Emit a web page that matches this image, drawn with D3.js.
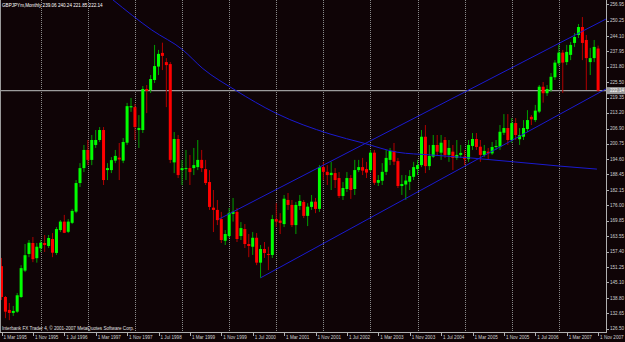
<!DOCTYPE html>
<html>
<head>
<meta charset="utf-8">
<script src="https://cdn.jsdelivr.net/npm/d3@7"></script>
<style>
body { margin: 0; background: #0f0406; }
svg { display: block; }
</style>
</head>
<body>
<div id="chart"></div>
<script>
// GBPJPYm monthly, Mar 1995 .. Nov 2007
const firstMonth = new Date(1995, 2, 1);
const lastMonth = new Date(2007, 10, 1);

const open = [151.6,139.2,134.0,132.8,133.3,139.2,149.8,156.5,160.9,154.8,158.8,160.9,159.7,162.5,156.9,166.1,169.5,165.4,169.0,173.5,
185.0,191.0,198.3,194.3,200.3,202.3,206.3,190.2,190.2,194.0,195.2,194.0,201.2,215.4,215.5,206.3,206.3,222.8,222.4,226.4,
231.8,237.3,233.6,232.8,193.3,202.7,190.2,190.6,191.0,191.0,191.4,194.3,190.6,185.4,175.1,174.2,170.5,161.8,163.7,172.6,
173.4,163.7,166.5,160.5,159.4,163.0,153.0,158.5,156.5,156.1,170.5,169.9,168.5,178.2,176.2,168.1,175.8,177.4,171.8,175.4,
177.5,174.6,191.4,189.5,188.2,189.0,187.0,179.8,182.6,187.0,182.6,190.2,191.4,190.6,190.2,197.2,185.1,185.9,189.5,194.3,
197.9,193.8,183.8,184.4,185.5,187.5,190.6,192.2,203.6,191.8,195.6,200.3,197.2,202.3,196.3,197.6,195.1,196.3,195.6,194.6,
199.9,202.7,199.6,196.3,197.6,196.9,199.5,199.6,205.2,207.1,202.3,209.1,202.6,203.6,206.7,211.6,210.3,213.7,223.7,221.1,
222.4,227.5,233.1,237.4,233.6,236.5,241.3,244.5,247.7,242.5,233.6,235.2,239.06];

const high = [154.9,139.6,136.8,135.6,140.8,152.0,160.5,162.1,163.3,160.9,162.1,164.1,164.1,164.9,167.3,170.1,172.2,170.5,174.6,186.2,
193.0,200.3,202.3,204.3,206.3,207.5,207.5,193.0,195.4,198.3,201.1,203.1,217.2,219.2,216.8,212.3,224.0,224.4,228.4,240.5,
238.5,241.4,235.2,233.6,205.5,204.3,194.3,198.3,196.3,199.1,202.3,198.3,194.3,190.2,182.2,178.2,173.4,166.1,175.0,179.0,
175.0,169.3,168.5,164.5,165.3,164.9,160.1,161.3,159.4,172.2,176.9,172.9,180.2,181.0,178.2,177.4,180.2,178.2,176.9,180.2,
179.0,192.2,193.5,192.2,193.5,191.0,189.4,185.4,189.4,188.2,194.3,194.3,195.1,193.5,198.3,198.3,188.2,193.0,198.3,199.1,
201.1,195.1,188.2,188.2,190.2,193.5,194.3,206.3,208.3,200.3,204.3,204.3,204.3,203.5,202.3,200.3,202.3,200.3,198.3,202.3,
205.1,205.1,202.3,200.3,199.1,201.5,202.3,208.3,212.7,212.7,211.1,211.1,207.1,210.3,214.3,212.3,216.4,224.4,225.6,224.4,
229.2,234.4,240.5,238.5,240.5,241.7,245.3,248.9,251.7,244.5,239.3,242.5,240.24];

const low = [138.0,130.7,129.9,131.6,132.8,138.8,149.2,155.2,153.2,153.0,157.3,157.3,158.9,155.2,156.1,165.3,164.9,164.9,168.5,172.9,
183.4,189.4,192.2,192.2,199.1,201.5,184.2,186.2,189.0,193.0,186.2,193.0,200.3,213.6,202.3,199.1,205.1,213.1,221.2,225.2,
228.4,230.4,215.5,193.0,189.0,187.0,184.2,186.2,184.2,188.2,190.2,189.4,184.2,174.2,165.3,168.1,160.9,160.1,162.9,169.5,
161.3,162.1,158.9,155.2,156.1,152.0,146.9,154.9,150.0,154.9,167.3,164.5,167.3,174.2,167.3,164.5,174.2,170.9,167.7,174.2,
172.9,173.4,186.2,184.2,182.2,183.0,179.0,178.2,181.4,178.6,180.2,189.4,188.2,187.0,189.4,184.2,183.8,184.2,188.2,192.2,
192.2,183.0,180.2,178.2,182.2,186.2,188.2,191.4,189.0,190.2,195.1,195.9,194.3,195.1,193.5,190.2,194.3,195.1,192.2,193.5,
198.3,198.3,193.5,195.5,194.3,196.3,198.3,198.3,204.3,200.3,201.1,202.3,200.3,202.3,205.5,208.3,209.5,213.1,217.3,220.0,
221.6,226.4,232.0,221.2,232.4,234.4,239.7,243.3,234.4,222.4,228.4,233.6,221.85];

const close = [139.2,133.3,132.8,133.6,139.9,150.8,156.0,161.0,154.4,159.4,161.0,160.1,162.9,157.0,166.5,169.5,165.0,169.5,173.8,185.0,
191.0,198.3,194.3,202.3,202.3,206.3,186.2,191.0,194.2,195.9,194.5,201.5,215.9,215.9,207.5,207.1,222.8,222.0,226.8,232.0,
236.9,236.1,232.4,194.3,202.7,188.2,191.0,191.0,189.4,192.2,194.3,191.0,185.0,175.4,174.2,170.1,162.1,164.5,173.0,173.5,
162.5,166.9,160.5,159.7,163.0,153.0,158.5,156.9,156.1,170.5,169.5,169.0,178.7,176.2,168.1,176.2,177.8,171.8,175.5,177.5,
174.6,191.4,189.5,188.2,189.1,186.2,179.8,183.0,187.0,182.2,190.2,191.4,190.0,189.2,197.2,185.1,186.2,189.5,195.1,197.9,
193.6,183.8,184.6,186.0,187.8,191.4,192.2,203.6,191.8,195.9,200.3,197.6,201.2,196.3,199.1,195.1,196.3,197.1,194.6,200.3,
202.7,199.5,196.3,197.9,196.9,199.5,199.9,205.6,207.1,202.3,209.1,204.3,204.3,207.1,210.3,210.6,214.1,223.7,221.1,222.8,
227.7,233.4,237.4,233.4,237.7,240.5,243.7,247.7,241.3,235.2,235.2,239.7,222.14];

// right scale labels as printed by the terminal
const priceTicks = [256.95,250.25,244.10,237.95,231.80,225.50,219.35,213.20,206.90,200.75,194.60,188.45,182.15,176.00,169.85,163.55,157.40,151.25,145.10,138.80,132.65,126.50];

// drawn objects: [bar index, price]
const upperChannel = [[55.4,170.5],[154,250.9]];
const lowerChannel = [[66,146.9],[154,222.8]];
const arcPoints = [[28.4,258.6],[38.3,246.5],[46.2,238.5],[51.3,231.0],[59.5,222.4],[70,213.0],[83.7,204.7],[92.1,201.1],[100.8,197.4],[109.2,196.3],[119.4,195.1],[142.3,191.8],[151.7,190.6]];
const bidPrice = 222.14;

const titleText = "GBPJPYm,Monthly  239.06 240.24 221.85 222.14";
const footText = "Interbank FX Trader 4, \u00a9 2001-2007 MetaQuotes Software Corp.";

const W = 625, H = 342;
const plotRight = 606, plotBottom = 332;

const months = d3.timeMonth.range(firstMonth, d3.timeMonth.offset(lastMonth, 1));
const bars = months.map((m, i) => ({i: i, date: m, o: open[i], h: high[i], l: low[i], c: close[i]}));

const x = d3.scaleLinear().domain([0, 152]).range([1.5, 598.1]);
const y = d3.scaleLinear().domain([126.5, 256.95]).range([328.6, 4]);

const svg = d3.select("#chart").append("svg")
    .attr("width", W)
    .attr("height", H)
    .style("font-family", "'Liberation Sans', Arial, sans-serif");

svg.append("rect").attr("width", W).attr("height", H).attr("fill", "#0f0406");

svg.append("clipPath").attr("id", "plot")
    .append("rect").attr("x", 0).attr("y", 0).attr("width", plotRight).attr("height", plotBottom);

const plot = svg.append("g").attr("clip-path", "url(#plot)");

// year separators
const yearStarts = bars.filter(d => d.date.getMonth() === 0);
plot.selectAll(".vgrid").data(yearStarts).enter().append("line")
    .attr("x1", d => Math.round(x(d.i)) + 0.5)
    .attr("x2", d => Math.round(x(d.i)) + 0.5)
    .attr("y1", 0).attr("y2", plotBottom)
    .attr("stroke", "#8a8a8a")
    .attr("stroke-dasharray", "1,1");

// bid line
plot.append("line")
    .attr("x1", 0).attr("x2", plotRight)
    .attr("y1", y(bidPrice)).attr("y2", y(bidPrice))
    .attr("stroke", "#9c9c9c").attr("stroke-width", 1.2);

// candles
const up = d => d.c >= d.o;
plot.selectAll(".wick").data(bars).enter().append("line")
    .attr("x1", d => x(d.i)).attr("x2", d => x(d.i))
    .attr("y1", d => y(d.h)).attr("y2", d => y(d.l))
    .attr("stroke", d => up(d) ? "#00a000" : "#b00000")
    .attr("stroke-width", 1);

plot.selectAll(".body").data(bars).enter().append("rect")
    .attr("x", d => x(d.i) - 1.5)
    .attr("width", 3)
    .attr("y", d => y(Math.max(d.o, d.c)))
    .attr("height", d => Math.max(1, Math.abs(y(d.o) - y(d.c))))
    .attr("fill", d => up(d) ? "#00ff00" : "#ff0000");

// trend lines and arc
const line = d3.line().x(d => x(d[0])).y(d => y(d[1]));
[upperChannel, lowerChannel].forEach(pts => {
    plot.append("path").attr("d", line(pts))
        .attr("fill", "none").attr("stroke", "#1a1ad0").attr("stroke-width", 1);
});
plot.append("path").attr("d", line.curve(d3.curveMonotoneX)(arcPoints))
    .attr("fill", "none").attr("stroke", "#1a1ad0").attr("stroke-width", 1);

// frame
svg.append("line").attr("x1", 0.5).attr("x2", 0.5).attr("y1", 0).attr("y2", plotBottom).attr("stroke", "#9a9a9a");
svg.append("line").attr("x1", plotRight + 0.5).attr("x2", plotRight + 0.5).attr("y1", 0).attr("y2", plotBottom + 1).attr("stroke", "#b0b0b0");
svg.append("line").attr("x1", 0).attr("x2", plotRight + 1).attr("y1", plotBottom + 0.5).attr("y2", plotBottom + 0.5).attr("stroke", "#b0b0b0");

// price scale
const yAxis = svg.append("g");
yAxis.selectAll(".ytick").data(priceTicks).enter().append("line")
    .attr("x1", plotRight).attr("x2", plotRight + 3)
    .attr("y1", d => Math.round(y(d)) + 0.5).attr("y2", d => Math.round(y(d)) + 0.5)
    .attr("stroke", "#b0b0b0");
yAxis.selectAll(".ylab").data(priceTicks).enter().append("text")
    .attr("x", plotRight + 4)
    .attr("y", d => Math.min(y(d), plotBottom - 1))
    .attr("dy", "0.35em")
    .attr("font-size", 4.6)
    .attr("fill", "#d0d0d0")
    .text(d => d.toFixed(2));

// bid label
const bidG = svg.append("g").attr("transform", "translate(" + (plotRight + 1) + "," + y(bidPrice) + ")");
bidG.append("rect").attr("x", 0).attr("y", -3.5).attr("width", 18).attr("height", 7).attr("fill", "#9c9c9c");
bidG.append("text").attr("x", 3).attr("dy", "0.35em").attr("font-size", 4.6).attr("fill", "#ffffff").text(bidPrice.toFixed(2));

// time scale
const timeFmt = d3.timeFormat("%-d %b %Y");
const labelled = bars.filter(d => d.i % 8 === 0);
const xAxis = svg.append("g");
xAxis.selectAll(".xtick").data(labelled).enter().append("line")
    .attr("x1", d => Math.round(x(d.i)) + 0.5).attr("x2", d => Math.round(x(d.i)) + 0.5)
    .attr("y1", plotBottom).attr("y2", plotBottom + 4)
    .attr("stroke", "#b0b0b0");
xAxis.selectAll(".xlab").data(labelled).enter().append("text")
    .attr("x", d => x(d.i) + 2)
    .attr("y", plotBottom + 7)
    .attr("font-size", 4.6)
    .attr("fill", "#d0d0d0")
    .text(d => timeFmt(d.date));

// captions
svg.append("text").attr("x", 2).attr("y", 6.5).attr("font-size", 4.6).attr("fill", "#ffffff").text(titleText);
svg.append("text").attr("x", 2).attr("y", 330).attr("font-size", 4.6).attr("fill", "#e0e0e0").text(footText);
</script>
</body>
</html>
